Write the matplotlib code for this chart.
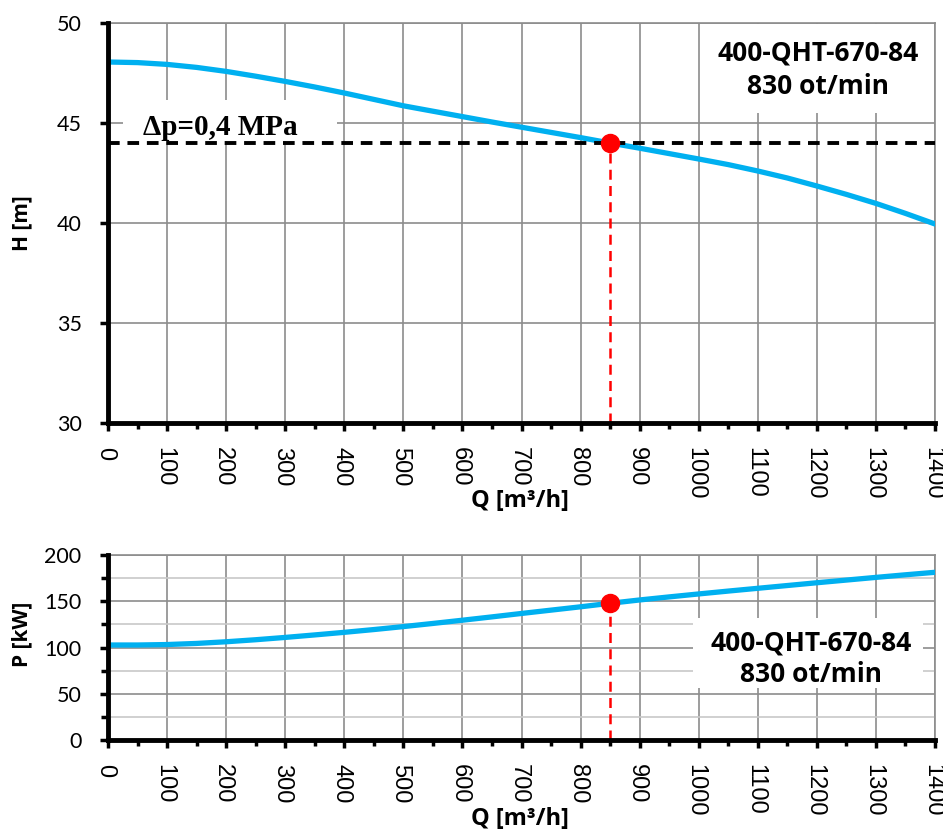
import matplotlib
matplotlib.use("Agg")
import matplotlib.pyplot as plt
from matplotlib.ticker import MultipleLocator
from matplotlib.patches import Rectangle
from matplotlib.transforms import ScaledTranslation

# Data
Q_pts = [0, 50, 100, 150, 200, 250, 300, 350, 400, 450, 500, 550, 600, 650, 700,
         750, 800, 850, 900, 950, 1000, 1050, 1100, 1150, 1200, 1250, 1300, 1350, 1400]
H_vals = [48.05, 48.02, 47.93, 47.78, 47.58, 47.34, 47.08, 46.80, 46.50, 46.18, 45.86,
          45.59, 45.32, 45.05, 44.79, 44.53, 44.27, 44.00, 43.74, 43.47, 43.20, 42.92,
          42.60, 42.25, 41.85, 41.43, 40.98, 40.48, 39.95]
P_vals = [102.7, 102.7, 103.2, 104.4, 106.2, 108.4, 110.9, 113.6, 116.4, 119.4, 122.6,
          126.0, 129.5, 133.1, 136.8, 140.4, 144.0, 147.8, 151.4, 154.7, 157.9, 161.0,
          164.0, 167.0, 170.0, 172.9, 175.8, 178.6, 181.3]
Q_op = 850
H_op = 44.0
P_op = 148.5
H_dp = 44.0
label_box = "400-QHT-670-84\n830 ot/min"
label_dp = "Δp=0,4 MPa"
x_ticks = list(range(0, 1401, 100))

BLUE = "#00B0F0"
GRID = "#8c8c8c"

fig = plt.figure(figsize=(9.43, 8.3), dpi=100)
ax1 = fig.add_axes([108/943, 1-423/830, (935-108)/943, 400/830])
ax2 = fig.add_axes([108/943, 1-740/830, (935-108)/943, 185/830])

TICKFONT = ['Lato', 'DejaVu Sans']
BOLDFONT = ['Open Sans', 'DejaVu Sans']
shift = ScaledTranslation(-3/100, 0, fig.dpi_scale_trans)

def style(ax, ylim, ymajor, yminor, minor_grid, qlabel_y):
    ax.set_axisbelow(True)
    ax.set_xlim(0, 1400)
    ax.set_ylim(*ylim)
    ax.xaxis.set_major_locator(MultipleLocator(100))
    ax.xaxis.set_minor_locator(MultipleLocator(50))
    ax.yaxis.set_major_locator(MultipleLocator(ymajor))
    if yminor:
        ax.yaxis.set_minor_locator(MultipleLocator(yminor))
    ax.grid(True, which='major', color=GRID, lw=1.2)
    if minor_grid:
        ax.grid(True, which='minor', axis='y', color="#c8c8c8", lw=1.2)
    for s in ['top', 'right']:
        ax.spines[s].set_color(GRID)
        ax.spines[s].set_linewidth(1.2)
    for s in ['left', 'bottom']:
        ax.spines[s].set_color('black')
        ax.spines[s].set_linewidth(3.5)
        ax.spines[s].set_zorder(5)
    ax.tick_params(axis='both', which='major', direction='out', length=6, width=2.5, color='black')
    ax.tick_params(axis='both', which='minor', direction='out', length=4, width=2.5, color='black')
    ax.tick_params(axis='y', which='minor', length=5)
    ax.tick_params(axis='y', pad=13)
    ax.tick_params(axis='x', pad=11)
    ax.set_xticks(x_ticks)
    ax.set_xticklabels([str(v) for v in x_ticks], rotation=270, fontsize=17,
                       family=['Liberation Sans', 'DejaVu Sans'], va='top', ha='center')
    for t in ax.get_yticklabels():
        t.set_fontsize(15.5)
        t.set_family(TICKFONT)
    ax.set_xlabel("Q [m³/h]", fontsize=17, fontweight='bold', family=BOLDFONT, va='top')
    ax.xaxis.set_label_coords(0.498, qlabel_y)
    # shift rotated tick labels slightly left (as in the reference)
    for t in ax.get_xticklabels():
        t.set_transform(t.get_transform() + shift)

# Top panel
style(ax1, (30, 50), 5, None, False, -0.165)
ax1.plot(Q_pts, H_vals, color=BLUE, lw=3.8, zorder=3, solid_joinstyle='round')
ax1.axhline(H_dp, color='black', lw=2.8, ls=(0, (3, 2)), zorder=4)
ax1.plot([Q_op, Q_op], [30, H_op], color='red', lw=1.8, ls=(0, (4, 2.5)), zorder=4)
ax1.plot([Q_op], [H_op], 'o', color='red', ms=13, zorder=6)
ax1.set_ylabel("H [m]", fontsize=15, fontweight='bold', family=BOLDFONT)
ax1.yaxis.set_label_coords(-0.091, 0.5)
ax1.add_patch(Rectangle((0.722, 0.775), 0.275, 0.223, transform=ax1.transAxes,
                        facecolor='white', edgecolor='none', zorder=1))
ax1.text(0.859, 0.8825, label_box, transform=ax1.transAxes, fontsize=19, fontweight='bold',
         family=BOLDFONT, ha='center', va='center', linespacing=1.3, zorder=4)
ax1.add_patch(Rectangle((0.018, 0.705), 0.259, 0.103, transform=ax1.transAxes,
                        facecolor='white', edgecolor='none', zorder=1))
ax1.text(59, 44.78, label_dp, fontsize=21, fontweight='bold',
         family=['Liberation Serif', 'DejaVu Serif'], ha='left', va='center', zorder=4)

# Bottom panel
style(ax2, (0, 200), 50, 25, True, -0.36)
ax2.plot(Q_pts, P_vals, color=BLUE, lw=3.8, zorder=3, solid_joinstyle='round')
ax2.plot([Q_op, Q_op], [0, P_op], color='red', lw=1.8, ls=(0, (4, 2.5)), zorder=4)
ax2.plot([Q_op], [P_op], 'o', color='red', ms=13, zorder=6)
ax2.set_ylabel("P [kW]", fontsize=15, fontweight='bold', family=BOLDFONT)
ax2.yaxis.set_label_coords(-0.091, 0.573)
ax2.add_patch(Rectangle((0.707, 0.281), 0.278, 0.378, transform=ax2.transAxes,
                        facecolor='white', edgecolor='none', zorder=1))
ax2.text(0.850, 0.44, label_box, transform=ax2.transAxes, fontsize=19, fontweight='bold',
         family=BOLDFONT, ha='center', va='center', linespacing=1.2, zorder=4)

fig.savefig("out.png", dpi=100)
